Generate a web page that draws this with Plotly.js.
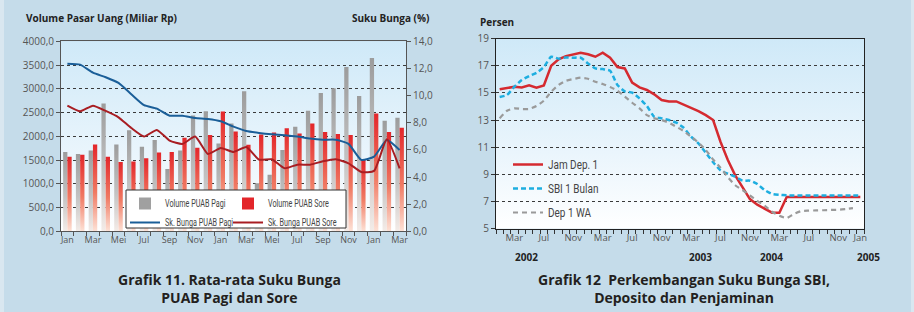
<!DOCTYPE html>
<html>
<head>
<meta charset="utf-8">
<script src="https://cdn.plot.ly/plotly-3.0.1.min.js"></script>
<style>
  html, body { margin: 0; padding: 0; background: #c5dcea; }
  #chart { width: 914px; height: 312px; }
</style>
</head>
<body>
<div id="chart"></div>
<script>
// ---- Grafik 11: PUAB volume (Miliar Rp) and average rates (%) ----
const puabMonths = ['Jan','Feb','Mar','Apr','Mei','Jun','Jul','Agu','Sep','Okt','Nov','Des',
                    'Jan','Feb','Mar','Apr','Mei','Jun','Jul','Agu','Sep','Okt','Nov','Des',
                    'Jan','Feb','Mar'];
const volPagi  = [1670,1630,1700,2690,1830,2130,1780,1920,1310,1700,2440,2530,
                  1850,2270,2950,1010,1190,1710,2200,2540,2910,3010,3460,2850,
                  3650,2330,2390];
const volSore  = [1570,1610,1830,1570,1460,1470,1540,1660,1670,1970,1760,2030,
                  2520,2100,1820,2040,2080,2170,2060,2270,2090,2050,2030,1500,
                  2480,2090,2180];
const ratePagi = [12.35,12.28,11.69,11.35,10.93,10.10,9.29,9.04,8.52,8.52,8.35,8.28,
                  8.11,7.71,7.39,7.25,7.15,7.08,6.98,6.83,6.75,6.75,6.44,5.26,
                  5.50,6.73,5.99];
const rateSore = [9.26,8.84,9.26,8.87,8.40,7.61,6.98,7.47,6.68,6.44,6.98,5.70,
                  6.14,5.85,6.21,5.28,5.31,4.64,4.91,4.91,5.16,5.31,5.01,4.37,
                  4.45,6.78,4.64];

// ---- Grafik 12: SBI, deposit and guarantee rates (%), monthly ----
const jamDep = [15.27,15.39,15.46,15.41,15.56,15.39,15.56,17.01,17.48,17.72,
                17.85,17.97,17.85,17.67,17.97,17.60,16.91,16.81,15.76,15.41,
                15.22,14.90,14.48,14.38,14.38,14.16,13.92,13.67,13.37,13.01,
                11.41,10.06,8.93,8.09,7.18,6.77,6.45,6.18,6.18,7.33,
                7.33,7.33,7.33,7.33,7.33,7.33,7.33,7.33,7.33,7.33];
const sbi1   = [14.70,14.85,15.46,15.95,16.25,16.49,16.91,17.67,17.53,17.62,
                17.60,17.60,17.18,16.81,16.76,16.64,15.59,15.12,15.02,14.60,
                14.04,13.25,13.13,13.01,12.81,12.44,11.78,11.29,10.60,9.90,
                9.30,9.05,8.83,8.54,8.54,8.29,7.85,7.56,7.50,7.46,
                7.45,7.45,7.45,7.45,7.45,7.45,7.45,7.45,7.45,7.45];
const dep1wa = [13.13,13.69,13.87,13.82,13.82,14.04,14.43,15.09,15.59,15.90,
                16.03,16.13,16.05,15.83,15.66,15.44,15.17,14.73,14.28,13.87,
                13.37,13.13,13.01,12.81,12.51,12.20,11.78,11.34,10.80,10.10,
                9.50,8.80,8.20,7.85,7.45,7.05,6.70,6.25,5.95,5.78,
                6.10,6.30,6.33,6.35,6.36,6.38,6.40,6.45,6.52];
const rateTickIdx  = [2,6,10,14,18,22,26,30,34,38,42,46,49];
const rateTickText = ['Mar','Jul','Nov','Mar','Jul','Nov','Mar','Jul','Nov','Mar','Jul','Nov','Jan'];
const yearLabels   = ['2002','2003','2004','2005'];

// ---- page geometry helpers (pixel -> paper) ----
const W = 914, H = 312;
const px = v => v / W;
const py = v => 1 - v / H;

const FONT = "'Open Sans', 'DejaVu Sans', sans-serif";
const LEGEND_FONT = "Roboto, 'Open Sans', sans-serif";
const TICK = { family: FONT, size: 10, color: '#555' };

const idx1 = puabMonths.map((_, i) => i);
const idx2 = jamDep.map((_, i) => i);

const traces = [
  { type: 'bar', name: 'Volume PUAB Pagi', x: idx1, y: volPagi, xaxis: 'x', yaxis: 'y',
    marker: { color: '#a0a0a0', line: { width: 0 } }, legend: 'legend' },
  { type: 'bar', name: 'Volume PUAB Sore', x: idx1, y: volSore, xaxis: 'x', yaxis: 'y',
    marker: { color: '#e3262a', line: { width: 0 } }, legend: 'legend2' },
  { type: 'scatter', mode: 'lines', name: 'Sk. Bunga PUAB Pagi', x: idx1, y: ratePagi,
    xaxis: 'x', yaxis: 'y3', line: { color: '#1a5e98', width: 2, shape: 'spline', smoothing: 0.5 },
    legend: 'legend' },
  { type: 'scatter', mode: 'lines', name: 'Sk. Bunga PUAB Sore', x: idx1, y: rateSore,
    xaxis: 'x', yaxis: 'y3', line: { color: '#a81d22', width: 2, shape: 'spline', smoothing: 0.5 },
    legend: 'legend2' },

  { type: 'scatter', mode: 'lines', name: 'Jam Dep. 1', x: idx2, y: jamDep,
    xaxis: 'x2', yaxis: 'y2', line: { color: '#d52a30', width: 2.5 },
    legend: 'legend3', legendgroup: 'a' },
  { type: 'scatter', mode: 'lines', name: 'SBI 1 Bulan', x: idx2, y: sbi1,
    xaxis: 'x2', yaxis: 'y2', line: { color: '#1eaee0', width: 2.5, dash: '5px,3px', shape: 'spline', smoothing: 0.5 },
    legend: 'legend3', legendgroup: 'b' },
  { type: 'scatter', mode: 'lines', name: 'Dep 1 WA', x: idx2.slice(0, dep1wa.length), y: dep1wa,
    xaxis: 'x2', yaxis: 'y2', line: { color: '#9a9a9a', width: 2.2, dash: '5px,4px', shape: 'spline', smoothing: 0.5 },
    legend: 'legend3', legendgroup: 'c' }
];

const leftDomX = [px(61), px(406)], leftDomY = [py(231.3), py(41.3)];
const rightDomX = [px(496), px(864)], rightDomY = [py(228.7), py(38.7)];

const gridStyle = { showgrid: true, gridcolor: '#3a3a3a', gridwidth: 1, griddash: 'dot' };

const layout = {
  width: W, height: H,
  margin: { l: 0, r: 0, t: 0, b: 0 },
  paper_bgcolor: '#c5dcea',
  plot_bgcolor: '#e6f3fb',
  separators: ',.',
  showlegend: true,
  barmode: 'group', bargap: 0.33, bargroupgap: 0,
  font: { family: FONT, color: '#333' },

  xaxis: {
    domain: leftDomX, anchor: 'y', range: [-0.5, puabMonths.length - 0.5],
    tickmode: 'array', tickvals: idx1.filter(i => i % 2 === 0),
    ticktext: idx1.filter(i => i % 2 === 0).map(i => puabMonths[i]),
    ticks: '', tickfont: { family: FONT, size: 9, color: '#555' },
    minor: { tickmode: 'linear', tick0: -0.5, dtick: 1, ticks: 'outside', ticklen: 4, tickcolor: '#555', showgrid: false },
    showline: true, linecolor: '#555', linewidth: 1, mirror: true,
    showgrid: false, zeroline: false, fixedrange: true
  },
  yaxis: Object.assign({
    domain: leftDomY, anchor: 'x', range: [0, 4000], dtick: 500, tickformat: '.1f',
    ticks: 'outside', ticklen: 4, tickcolor: '#555', tickfont: TICK,
    showline: true, linecolor: '#555', linewidth: 1, zeroline: false
  }, gridStyle),
  yaxis3: {
    overlaying: 'y', side: 'right', anchor: 'x', range: [0, 14], dtick: 2, tickformat: '.1f',
    ticks: 'outside', ticklen: 4, tickcolor: '#555', tickfont: TICK,
    showline: true, linecolor: '#555', linewidth: 1, showgrid: false, zeroline: false
  },

  xaxis2: {
    domain: rightDomX, anchor: 'y2', range: [-0.5, jamDep.length - 0.5],
    tickmode: 'array', tickvals: rateTickIdx, ticktext: rateTickText,
    ticks: '', tickfont: { family: FONT, size: 9.5, color: '#555' },
    minor: { tickmode: 'linear', tick0: -0.5, dtick: 1, ticks: 'outside', ticklen: 4, tickcolor: '#333', showgrid: false },
    showline: true, linecolor: '#222', linewidth: 1, mirror: true,
    showgrid: false, zeroline: false
  },
  yaxis2: Object.assign({
    domain: rightDomY, anchor: 'x2', range: [5, 19], tick0: 5, dtick: 2,
    ticks: 'outside', ticklen: 4, tickcolor: '#333', tickfont: TICK,
    showline: true, linecolor: '#222', linewidth: 1, mirror: true, zeroline: false
  }, gridStyle),

  legend: {
    x: px(125), y: py(189), xanchor: 'left', yanchor: 'top',
    bgcolor: 'rgba(0,0,0,0)', borderwidth: 0, tracegroupgap: 0,
    font: { family: LEGEND_FONT, size: 10, color: '#444' }, itemwidth: 30
  },
  legend2: {
    x: px(228), y: py(189), xanchor: 'left', yanchor: 'top',
    bgcolor: 'rgba(0,0,0,0)', borderwidth: 0, tracegroupgap: 0,
    font: { family: LEGEND_FONT, size: 10, color: '#444' }, itemwidth: 30
  },
  legend3: {
    x: px(508), y: py(150), xanchor: 'left', yanchor: 'top',
    bgcolor: 'rgba(0,0,0,0)', borderwidth: 0, tracegroupgap: 5,
    font: { family: LEGEND_FONT, size: 12, color: '#444' }, itemwidth: 30
  },

  shapes: [
    // white legend panel for Grafik 11
    { type: 'rect', xref: 'paper', yref: 'paper', layer: 'above',
      x0: px(126), x1: px(346), y0: py(228), y1: py(190),
      fillcolor: '#ffffff', line: { color: '#333', width: 1 } },
    // light edge strips of the page
    { type: 'rect', xref: 'paper', yref: 'paper', x0: 0, x1: px(4), y0: 0, y1: 1,
      fillcolor: '#d9e7f0', line: { width: 0 }, layer: 'below' },
    { type: 'rect', xref: 'paper', yref: 'paper', x0: px(911), x1: 1, y0: 0, y1: 1,
      fillcolor: '#d9e7f0', line: { width: 0 }, layer: 'below' }
  ],

  annotations: [
    { text: '<b>Volume Pasar Uang (Miliar Rp)</b>', xref: 'paper', yref: 'paper',
      x: px(24), y: py(18), xanchor: 'left', yanchor: 'middle', showarrow: false,
      font: { family: FONT, size: 10, color: '#222' } },
    { text: '<b>Suku Bunga (%)</b>', xref: 'paper', yref: 'paper',
      x: px(431), y: py(18), xanchor: 'right', yanchor: 'middle', showarrow: false,
      font: { family: FONT, size: 10, color: '#222' } },
    { text: '<b>Persen</b>', xref: 'paper', yref: 'paper',
      x: px(478), y: py(22), xanchor: 'left', yanchor: 'middle', showarrow: false,
      font: { family: FONT, size: 10, color: '#222' } },
    { text: '<b>Grafik 11. Rata-rata Suku Bunga<br>PUAB Pagi dan Sore</b>', xref: 'paper', yref: 'paper',
      x: px(230), y: py(288), xanchor: 'center', yanchor: 'middle', showarrow: false,
      font: { family: FONT, size: 14, color: '#231f20' } },
    { text: '<b>Grafik 12\u00a0 Perkembangan Suku Bunga SBI,<br>Deposito dan Penjaminan</b>', xref: 'paper', yref: 'paper',
      x: px(684), y: py(288), xanchor: 'center', yanchor: 'middle', showarrow: false,
      font: { family: FONT, size: 14, color: '#231f20' } }
  ].concat(yearLabels.map((t, k) => ({
    text: '<b>' + t + '</b>', xref: 'paper', yref: 'paper',
    x: px([526, 700, 771, 868][k]), y: py(257), xanchor: 'center', yanchor: 'middle',
    showarrow: false, font: { family: FONT, size: 10, color: '#222' }
  })))
};

const gd = document.getElementById('chart');
const NS = 'http://www.w3.org/2000/svg';

// horizontal squeeze per legend label, giving a condensed type look
const squeeze = {};
traces.forEach(t => { squeeze[t.name] = t.legend === 'legend3' ? 0.83 : 0.72; });

// vertical fades for the plot panels and the volume bars
function ensureGradients(svg) {
  let defs = svg.querySelector('defs');
  if (!defs) { defs = document.createElementNS(NS, 'defs'); svg.insertBefore(defs, svg.firstChild); }
  function addGrad(id, stops) {
    if (svg.querySelector('#' + id)) return;
    const g = document.createElementNS(NS, 'linearGradient');
    g.setAttribute('id', id);
    g.setAttribute('x1', '0'); g.setAttribute('y1', '0');
    g.setAttribute('x2', '0'); g.setAttribute('y2', '1');
    stops.forEach(([o, c]) => {
      const s = document.createElementNS(NS, 'stop');
      s.setAttribute('offset', o); s.setAttribute('stop-color', c);
      g.appendChild(s);
    });
    defs.appendChild(g);
  }
  addGrad('panelSky', [[0, '#cfe9f8'], [0.6, '#eaf5fc'], [1, '#ffffff']]);
  addGrad('fadeGray', [[0, '#9c9c9c'], [0.55, '#c2c2c2'], [1, '#f4ece8']]);
  addGrad('fadeRed',  [[0, '#e3262a'], [0.55, '#f07a63'], [1, '#fde2d6']]);
}

function finishStyling() {
  const svg = gd.querySelector('svg.main-svg');
  if (!svg) return;
  ensureGradients(svg);
  gd.querySelectorAll('rect.bg').forEach(r => {
    if (r.style.fill !== 'url("#panelSky")') r.style.fill = 'url(#panelSky)';
  });
  const barTraces = gd.querySelectorAll('.barlayer .trace');
  if (barTraces[0]) barTraces[0].querySelectorAll('path').forEach(p => { p.style.fill = 'url(#fadeGray)'; });
  if (barTraces[1]) barTraces[1].querySelectorAll('path').forEach(p => { p.style.fill = 'url(#fadeRed)'; });

  gd.querySelectorAll('text').forEach(t => {
    const f = squeeze[t.textContent];
    if (!f || t.getAttribute('data-squeezed')) return;
    const w = t.getComputedTextLength();
    if (w > 0) {
      t.setAttribute('textLength', (w * f).toFixed(1));
      t.setAttribute('lengthAdjust', 'spacingAndGlyphs');
      t.setAttribute('data-squeezed', '1');
    }
  });
}

// legends may be (re)drawn after the first pass, so keep watching the tree
new MutationObserver(() => finishStyling()).observe(gd, { childList: true, subtree: true });

Plotly.newPlot(gd, traces, layout, { staticPlot: true, displayModeBar: false }).then(() => {
  finishStyling();
  gd.on('plotly_afterplot', finishStyling);
});
</script>
</body>
</html>
